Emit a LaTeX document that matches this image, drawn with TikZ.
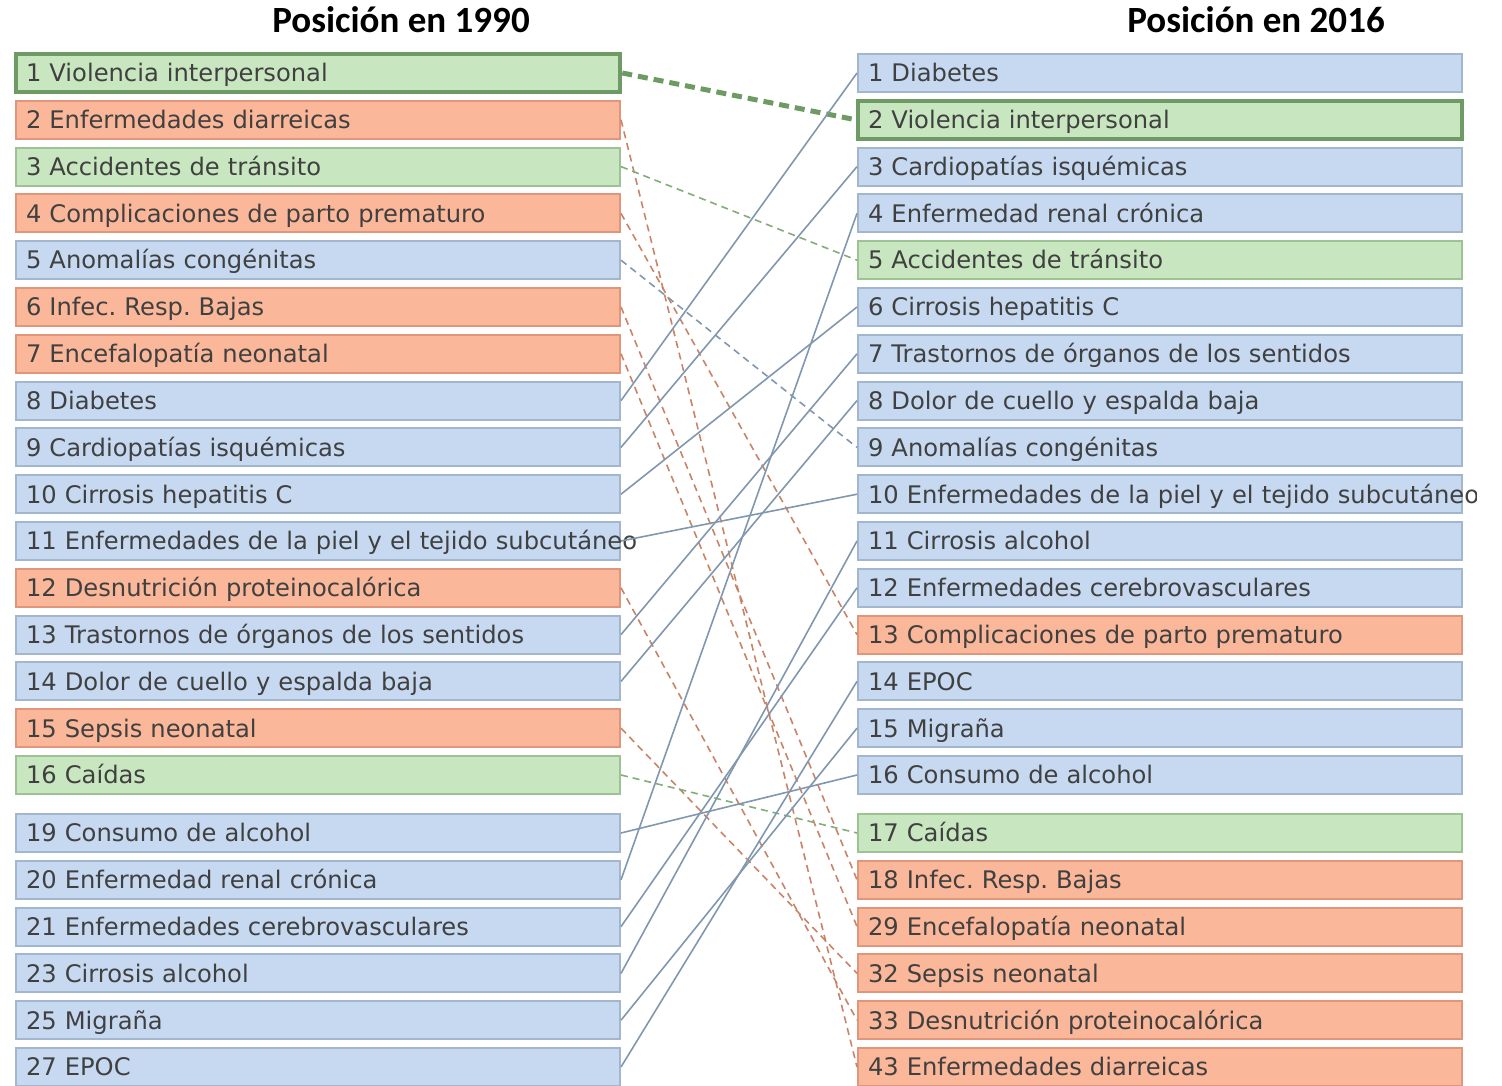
\documentclass[tikz,border=0pt]{standalone}
\usepackage{fontspec}
\setmainfont{DejaVu Sans}
\newfontfamily\titlefont{Carlito}
\usepackage{tikz}
\usetikzlibrary{positioning}
\frenchspacing
\definecolor{boxblue}{HTML}{C6D9F1}
\definecolor{edgeblue}{HTML}{A2B6CD}
\definecolor{boxred}{HTML}{FAB799}
\definecolor{edgered}{HTML}{E0967A}
\definecolor{boxgreen}{HTML}{C8E6BF}
\definecolor{edgegreen}{HTML}{9DC395}
\definecolor{darkgreen}{HTML}{6E9A63}
\definecolor{txtgrey}{HTML}{404040}
\definecolor{linkblue}{HTML}{8197AE}
\definecolor{linkred}{HTML}{C98468}
\definecolor{linkgreen}{HTML}{82AD79}
\tikzstyle{box} = [rectangle, minimum height=38pt, inner xsep=10pt, inner ysep=0pt, line width=2pt, text=txtgrey, font=\fontsize{24.2}{28}\selectfont, text width=584pt, text height=20pt, text depth=2.4pt, align=left]
\tikzstyle{bluebox} = [box, fill=boxblue, draw=edgeblue]
\tikzstyle{redbox} = [box, fill=boxred, draw=edgered]
\tikzstyle{greenbox} = [box, fill=boxgreen, draw=edgegreen]
\tikzstyle{topbox} = [greenbox, draw=darkgreen, line width=4.5pt]
\tikzstyle{title} = [font=\titlefont\bfseries\fontsize{37}{40}\selectfont]
\tikzset{up/.style={linkblue, line width=1.6pt}, down/.style={line width=1.6pt, dash pattern=on 7pt off 5pt}}

\begin{document}
\begin{tikzpicture}[x=1pt, y=-1pt]
        \useasboundingbox (0,0) rectangle (1502,1086);
        \clip (0,0) rectangle (1476,1086);
        % Titles
        \node[title] (t1990) at (401,20) {Posición en 1990};
        \node[title] (t2016) at (1256,20) {Posición en 2016};

        % Draw the 1990 column
        \node[topbox] (l1) at (318,73) {1 Violencia interpersonal};
        \node[redbox] (l2) at (318,119.8) {2 Enfermedades diarreicas};
        \node[greenbox] (l3) at (318,166.6) {3 Accidentes de tránsito};
        \node[redbox] (l4) at (318,213.4) {4 Complicaciones de parto prematuro};
        \node[bluebox] (l5) at (318,260.2) {5 Anomalías congénitas};
        \node[redbox] (l6) at (318,307) {6 Infec. Resp. Bajas};
        \node[redbox] (l7) at (318,353.8) {7 Encefalopatía neonatal};
        \node[bluebox] (l8) at (318,400.6) {8 Diabetes};
        \node[bluebox] (l9) at (318,447.4) {9 Cardiopatías isquémicas};
        \node[bluebox] (l10) at (318,494.2) {10 Cirrosis hepatitis C};
        \node[bluebox] (l11) at (318,541) {\mbox{11 Enfermedades de la piel y el tejido subcutáneo}};
        \node[redbox] (l12) at (318,587.8) {12 Desnutrición proteinocalórica};
        \node[bluebox] (l13) at (318,634.6) {13 Trastornos de órganos de los sentidos};
        \node[bluebox] (l14) at (318,681.4) {14 Dolor de cuello y espalda baja};
        \node[redbox] (l15) at (318,728.2) {15 Sepsis neonatal};
        \node[greenbox] (l16) at (318,775) {16 Caídas};
        \node[bluebox] (l19) at (318,833) {19 Consumo de alcohol};
        \node[bluebox] (l20) at (318,879.8) {20 Enfermedad renal crónica};
        \node[bluebox] (l21) at (318,926.6) {21 Enfermedades cerebrovasculares};
        \node[bluebox] (l23) at (318,973.4) {23 Cirrosis alcohol};
        \node[bluebox] (l25) at (318,1020.2) {25 Migraña};
        \node[bluebox] (l27) at (318,1067) {27 EPOC};

        % Draw the 2016 column
        \node[bluebox] (r1) at (1160,73) {1 Diabetes};
        \node[topbox] (r2) at (1160,119.8) {2 Violencia interpersonal};
        \node[bluebox] (r3) at (1160,166.6) {3 Cardiopatías isquémicas};
        \node[bluebox] (r4) at (1160,213.4) {4 Enfermedad renal crónica};
        \node[greenbox] (r5) at (1160,260.2) {5 Accidentes de tránsito};
        \node[bluebox] (r6) at (1160,307) {6 Cirrosis hepatitis C};
        \node[bluebox] (r7) at (1160,353.8) {7 Trastornos de órganos de los sentidos};
        \node[bluebox] (r8) at (1160,400.6) {8 Dolor de cuello y espalda baja};
        \node[bluebox] (r9) at (1160,447.4) {9 Anomalías congénitas};
        \node[bluebox] (r10) at (1160,494.2) {\mbox{10 Enfermedades de la piel y el tejido subcutáneo}};
        \node[bluebox] (r11) at (1160,541) {11 Cirrosis alcohol};
        \node[bluebox] (r12) at (1160,587.8) {12 Enfermedades cerebrovasculares};
        \node[redbox] (r13) at (1160,634.6) {13 Complicaciones de parto prematuro};
        \node[bluebox] (r14) at (1160,681.4) {14 EPOC};
        \node[bluebox] (r15) at (1160,728.2) {15 Migraña};
        \node[bluebox] (r16) at (1160,775) {16 Consumo de alcohol};
        \node[greenbox] (r17) at (1160,833) {17 Caídas};
        \node[redbox] (r18) at (1160,879.8) {18 Infec. Resp. Bajas};
        \node[redbox] (r29) at (1160,926.6) {29 Encefalopatía neonatal};
        \node[redbox] (r32) at (1160,973.4) {32 Sepsis neonatal};
        \node[redbox] (r33) at (1160,1020.2) {33 Desnutrición proteinocalórica};
        \node[redbox] (r43) at (1160,1067) {43 Enfermedades diarreicas};

        % Causes that went down
        \draw[down, darkgreen, line width=5pt, dash pattern=on 10pt off 6pt] (l1.east) -- (r2.west);
        \draw[down, linkred] (l2.east) -- (r43.west);
        \draw[down, linkgreen] (l3.east) -- (r5.west);
        \draw[down, linkred] (l4.east) -- (r13.west);
        \draw[down, linkblue] (l5.east) -- (r9.west);
        \draw[down, linkred] (l6.east) -- (r18.west);
        \draw[down, linkred] (l7.east) -- (r29.west);
        \draw[down, linkred] (l12.east) -- (r33.west);
        \draw[down, linkred] (l15.east) -- (r32.west);
        \draw[down, linkgreen] (l16.east) -- (r17.west);

        % Causes that went up
        \draw[up] (l8.east) -- (r1.west);
        \draw[up] (l9.east) -- (r3.west);
        \draw[up] (l10.east) -- (r6.west);
        \draw[up] (l11.east) -- (r10.west);
        \draw[up] (l13.east) -- (r7.west);
        \draw[up] (l14.east) -- (r8.west);
        \draw[up] (l19.east) -- (r16.west);
        \draw[up] (l20.east) -- (r4.west);
        \draw[up] (l21.east) -- (r12.west);
        \draw[up] (l23.east) -- (r11.west);
        \draw[up] (l25.east) -- (r15.west);
        \draw[up] (l27.east) -- (r14.west);
    \end{tikzpicture}
\end{document}
